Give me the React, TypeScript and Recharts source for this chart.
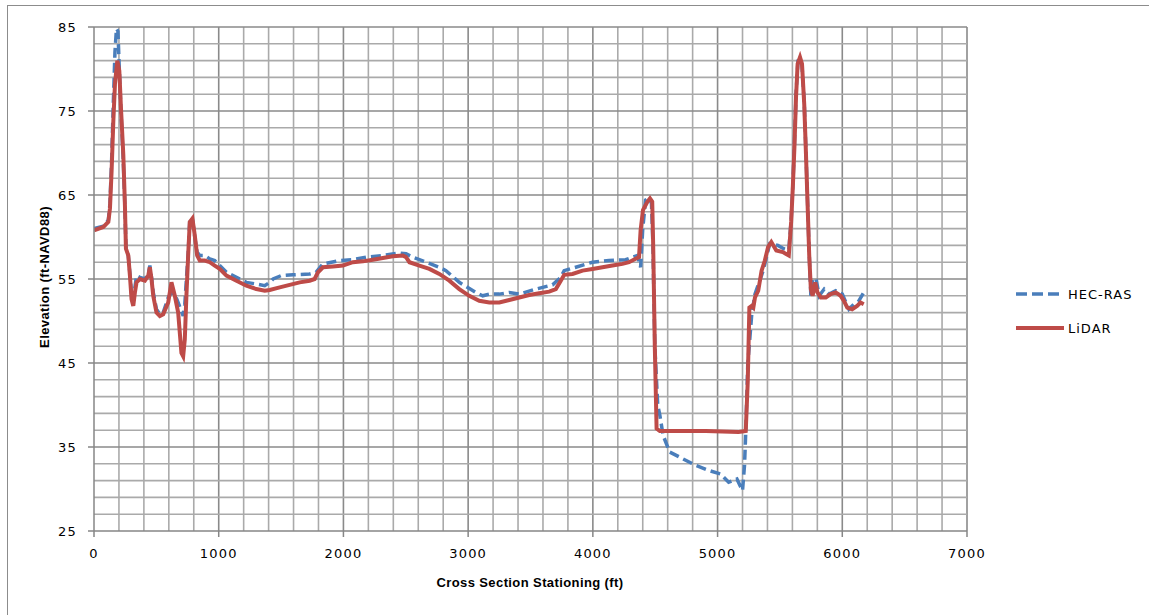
import React from 'react';
import { LineChart, Line, XAxis, YAxis, ReferenceLine } from 'recharts';

// HEC-RAS cross section (station ft, elevation ft-NAVD88)
const hecStations = [0, 75, 115, 128, 141, 155, 168, 180, 192, 203, 216, 235, 248, 256, 275, 288, 301, 315, 328, 341, 368, 408, 435, 448, 461, 475, 501, 528, 555, 595, 621, 648, 675, 700, 715, 728, 741, 755, 768, 789, 808, 827, 848, 888, 928, 968, 1008, 1062, 1142, 1222, 1302, 1369, 1409, 1436, 1500, 1596, 1729, 1780, 1836, 1969, 2076, 2182, 2316, 2449, 2502, 2556, 2662, 2769, 2822, 2929, 3062, 3117, 3170, 3250, 3330, 3410, 3543, 3677, 3743, 3770, 3863, 3997, 4130, 4263, 4357, 4383, 4400, 4423, 4450, 4470, 4482, 4497, 4520, 4537, 4563, 4616, 4721, 4826, 4931, 5023, 5089, 5155, 5200, 5216, 5226, 5242, 5274, 5300, 5366, 5418, 5484, 5530, 5571, 5590, 5603, 5616, 5629, 5645, 5661, 5677, 5695, 5709, 5722, 5735, 5748, 5762, 5790, 5815, 5855, 5895, 5947, 6000, 6053, 6093, 6133, 6172];
const hecElevations = [61, 61.3, 62, 64, 69, 76, 82, 84.8, 84.5, 80, 75, 69, 63.5, 58.8, 57.8, 55.6, 53.2, 52.4, 54, 55.4, 55.2, 55, 55.6, 56.6, 55.2, 53.4, 51.4, 50.8, 51, 52.8, 53.4, 53.2, 52.2, 51.2, 50.6, 52, 55, 58, 62, 62.2, 60, 58.2, 57.8, 57.8, 57.4, 57.2, 56.6, 55.8, 55.2, 54.6, 54.4, 54.2, 54.6, 55, 55.4, 55.5, 55.6, 55.8, 56.8, 57.2, 57.3, 57.6, 57.8, 58.1, 58, 57.6, 57, 56.4, 56, 54.6, 53.4, 53, 53.2, 53.2, 53.4, 53.2, 53.8, 54.3, 55.2, 56, 56.4, 57, 57.2, 57.3, 57.8, 56.4, 61, 64.4, 64.7, 64, 59, 47, 40, 38.8, 36.4, 34.4, 33.6, 32.8, 32.2, 31.8, 30.8, 31.2, 29.8, 32.8, 36.8, 44.8, 50.8, 53.2, 56, 59.2, 59, 58.6, 58.4, 62, 66, 71, 77, 81, 81.2, 80.4, 76, 70, 64, 58, 53, 55, 55, 53, 53.8, 53.2, 53.6, 53.2, 51.4, 52, 52.4, 53.4];

// LiDAR cross section (station ft, elevation ft-NAVD88)
const lidarStations = [0, 75, 115, 128, 141, 155, 168, 187, 203, 216, 235, 248, 256, 275, 288, 301, 315, 328, 341, 368, 408, 435, 448, 461, 475, 501, 528, 555, 595, 621, 648, 675, 701, 715, 728, 741, 755, 768, 789, 808, 827, 848, 888, 928, 968, 1008, 1062, 1142, 1222, 1302, 1369, 1409, 1489, 1569, 1649, 1729, 1769, 1796, 1836, 1916, 1996, 2076, 2156, 2236, 2316, 2396, 2476, 2502, 2529, 2609, 2689, 2769, 2849, 2929, 3009, 3089, 3170, 3250, 3330, 3410, 3490, 3570, 3650, 3703, 3743, 3770, 3837, 3917, 3997, 4077, 4157, 4237, 4290, 4343, 4370, 4383, 4402, 4437, 4458, 4476, 4484, 4497, 4511, 4537, 4642, 4905, 5168, 5226, 5242, 5255, 5274, 5287, 5300, 5326, 5353, 5379, 5405, 5431, 5471, 5523, 5571, 5590, 5603, 5616, 5629, 5642, 5661, 5677, 5695, 5709, 5722, 5735, 5748, 5762, 5783, 5801, 5828, 5868, 5907, 5947, 5987, 6013, 6040, 6079, 6119, 6146, 6172];
const lidarElevations = [60.8, 61.2, 61.8, 63.4, 67.8, 73.8, 78.2, 81, 79.8, 75.4, 69.8, 63.8, 58.6, 57.8, 55.4, 52.6, 51.8, 53.4, 54.6, 55, 54.8, 55.4, 56.4, 55, 53, 51, 50.6, 50.8, 52.2, 54.6, 53, 51, 46.2, 45.8, 47.8, 53, 57.8, 61.8, 62.2, 60.2, 57.8, 57.2, 57.2, 57, 56.6, 56.2, 55.4, 54.8, 54.2, 53.8, 53.6, 53.7, 54, 54.3, 54.6, 54.8, 55, 55.8, 56.4, 56.5, 56.6, 57, 57.1, 57.3, 57.5, 57.7, 57.8, 57.6, 57, 56.6, 56.2, 55.6, 54.8, 53.8, 53, 52.4, 52.2, 52.2, 52.5, 52.8, 53.1, 53.3, 53.5, 53.8, 54.8, 55.5, 55.6, 56, 56.2, 56.4, 56.6, 56.8, 57, 57.4, 57.6, 60.8, 63.2, 64.2, 64.6, 64.2, 58.8, 46.8, 37.2, 36.9, 36.9, 36.9, 36.8, 36.9, 42.8, 51.6, 51.8, 51.6, 52.8, 53.6, 56, 57.2, 58.8, 59.4, 58.4, 58.2, 57.8, 61.8, 65.8, 70.6, 76.6, 80.6, 81.4, 80.6, 75.8, 69.8, 63.8, 57.8, 53.8, 53, 54.6, 53.4, 52.8, 52.8, 53.2, 53.4, 53, 52.4, 51.6, 51.4, 51.8, 52.2, 52];

const xTicks = [0, 1000, 2000, 3000, 4000, 5000, 6000, 7000];
const yTicks = [25, 35, 45, 55, 65, 75, 85];
const xGrid = [200, 400, 600, 800, 1000, 1200, 1400, 1600, 1800, 2000, 2200, 2400, 2600, 2800, 3000, 3200, 3400, 3600, 3800, 4000, 4200, 4400, 4600, 4800, 5000, 5200, 5400, 5600, 5800, 6000, 6200, 6400, 6600, 6800, 7000];
const yGrid = [27, 29, 31, 33, 35, 37, 39, 41, 43, 45, 47, 49, 51, 53, 55, 57, 59, 61, 63, 65, 67, 69, 71, 73, 75, 77, 79, 81, 83, 85];

const hecData = hecStations.map((x, i) => ({ x, y: hecElevations[i] }));
const lidarData = lidarStations.map((x, i) => ({ x, y: lidarElevations[i] }));

const BLUE = '#4a7ebb';
const RED = '#be4b48';
const tickFont = { fill: '#000', fontSize: 13, fontFamily: 'DejaVu Sans', letterSpacing: 1.2 };

const LegendBox = () => (
  <div style={{ position: 'absolute', left: 1014, top: 284, width: 135, fontFamily: 'DejaVu Sans', fontSize: 13, letterSpacing: 1, color: '#000' }}>
    <div style={{ display: 'flex', alignItems: 'center', height: 20, marginBottom: 14 }}>
      <svg width={54} height={10}><line x1={2} y1={5} x2={48} y2={5} stroke={BLUE} strokeWidth={3.5} strokeDasharray="11 5" /></svg>
      <span>HEC-RAS</span>
    </div>
    <div style={{ display: 'flex', alignItems: 'center', height: 20 }}>
      <svg width={54} height={10}><line x1={2} y1={5} x2={50} y2={5} stroke={RED} strokeWidth={4} /></svg>
      <span>LiDAR</span>
    </div>
  </div>
);

export default function App() {
  return (
    <div style={{ position: 'absolute', left: 0, top: 0, width: 1149, height: 615, background: '#fff', overflow: 'hidden' }}>
      <div style={{ position: 'absolute', left: 7, top: 5, width: 1160, height: 620, borderLeft: '1px solid #8c8c8c', borderTop: '1px solid #8c8c8c' }} />
      <div style={{ position: 'absolute', left: 0, top: 0 }}>
        <LineChart width={1149} height={615} margin={{ top: 27, right: 182, bottom: 54, left: 0 }}>
          {xGrid.map((v) => (
            <ReferenceLine key={'gx' + v} x={v} stroke={v % 1000 === 0 ? '#8a8a8a' : '#aaaaaa'} strokeWidth={1.6} />
          ))}
          {yGrid.map((v) => (
            <ReferenceLine key={'gy' + v} y={v} stroke={(v - 25) % 10 === 0 ? '#8a8a8a' : '#aaaaaa'} strokeWidth={1.6} />
          ))}
          <XAxis
            type="number"
            dataKey="x"
            domain={[0, 7000]}
            ticks={xTicks}
            allowDataOverflow
            height={30}
            stroke="#868686"
            strokeWidth={1.5}
            tickSize={6}
            tickMargin={12}
            tick={tickFont}
            label={{
              content: () => (
                <text x={530} y={587} textAnchor="middle" fontFamily="Liberation Sans" fontWeight="bold" fontSize={13} letterSpacing={0.4} fill="#000">
                  Cross Section Stationing (ft)
                </text>
              ),
            }}
          />
          <YAxis
            type="number"
            dataKey="y"
            domain={[25, 85]}
            ticks={yTicks}
            allowDataOverflow
            width={94}
            stroke="#868686"
            strokeWidth={1.5}
            tickSize={6}
            tickMargin={11}
            tick={tickFont}
            label={{
              content: () => (
                <text x={49} y={277} transform="rotate(-90 49 277)" textAnchor="middle" fontFamily="Liberation Sans" fontWeight="bold" fontSize={13} letterSpacing={0.4} fill="#000">
                  Elevation (ft-NAVD88)
                </text>
              ),
            }}
          />
          <Line data={hecData} dataKey="y" name="HEC-RAS" type="linear" stroke={BLUE} strokeWidth={3.5} strokeDasharray="10 5" dot={false} activeDot={false} isAnimationActive={false} />
          <Line data={lidarData} dataKey="y" name="LiDAR" type="linear" stroke={RED} strokeWidth={4} dot={false} activeDot={false} isAnimationActive={false} />
        </LineChart>
      </div>
      <LegendBox />
    </div>
  );
}
